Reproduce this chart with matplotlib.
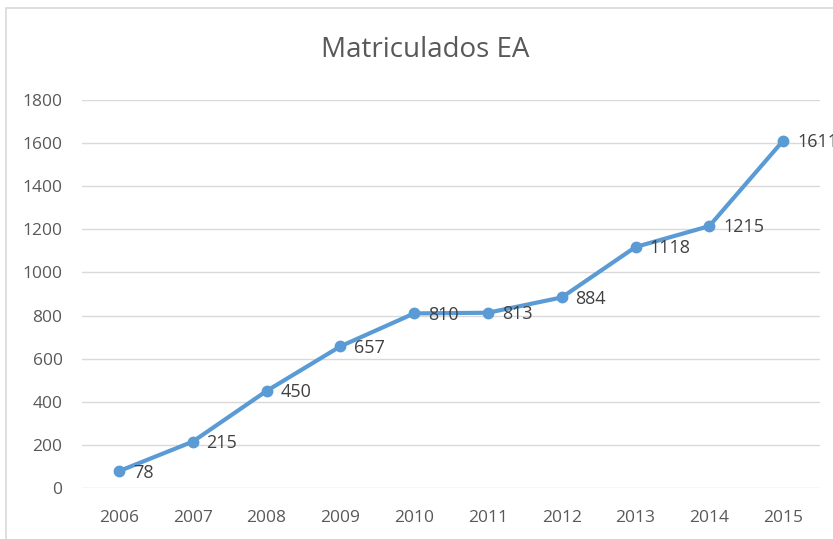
import matplotlib.pyplot as plt
from matplotlib.patches import Rectangle

# Data
years = ["2006", "2007", "2008", "2009", "2010", "2011", "2012", "2013", "2014", "2015"]
enrolled = [78, 215, 450, 657, 810, 813, 884, 1118, 1215, 1611]
y_ticks = [0, 200, 400, 600, 800, 1000, 1200, 1400, 1600, 1800]

plt.rcParams['font.family'] = ['Open Sans', 'DejaVu Sans']

fig = plt.figure(figsize=(8.33, 5.39), dpi=100)
fig.patch.set_facecolor('white')

# chart frame (right and bottom sides run off the picture)
W, H = 833, 539
fig.patches.append(Rectangle((6 / W, -0.05), 1.0, 1.05 - 8 / H, transform=fig.transFigure,
                             fill=False, edgecolor='#d9d9d9', linewidth=1.2))

ax = fig.add_axes([82 / W, 1 - 488 / H, (820 - 82) / W, (488 - 100) / H])
x = list(range(len(years)))
ax.plot(x, enrolled, color='#5B9BD5', linewidth=3, marker='o', markersize=7.5,
        solid_capstyle='round')

for xi, v in zip(x, enrolled):
    ax.annotate(str(v), (xi, v), xytext=(10, -1), textcoords='offset points',
                ha='left', va='center', fontsize=13, color='#404040',
                annotation_clip=False)

ax.set_xlim(-0.5, len(years) - 0.5)
ax.set_ylim(0, 1800)
ax.set_yticks(y_ticks)
ax.set_xticks(x)
ax.set_xticklabels(years)
ax.tick_params(axis='both', length=0, labelsize=12.5, labelcolor='#595959')
ax.tick_params(axis='y', pad=14)
ax.tick_params(axis='x', pad=16)
ax.grid(axis='y', color='#d9d9d9', linewidth=1)
ax.set_axisbelow(True)
for s in ax.spines.values():
    s.set_visible(False)

fig.text(425 / W, 1 - 50 / H, "Matriculados EA", ha='center', va='center',
         fontsize=20, color='#595959')

fig.savefig('out.png', dpi=100)
